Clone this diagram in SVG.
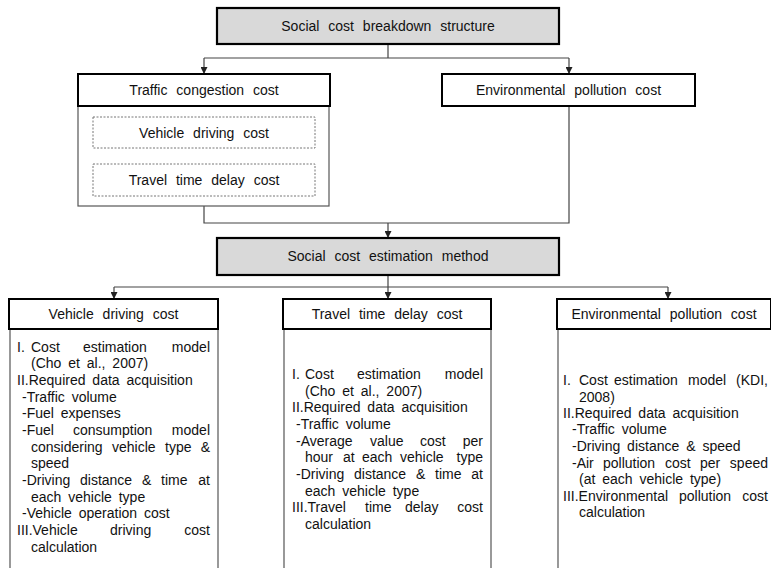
<svg xmlns="http://www.w3.org/2000/svg" width="771" height="568" viewBox="0 0 771 568">
<style>
text{font-family:"Liberation Sans",Arial,sans-serif;font-size:14px;fill:#111;}
.h{text-anchor:middle;word-spacing:5px;}
.b{word-spacing:3px;}
.e{text-anchor:end;}
.hdr{fill:#fff;stroke:#000;stroke-width:2;}
.gray{fill:#d9d9d9;stroke:#000;stroke-width:2.2;}
.body{fill:#fff;stroke:#555;stroke-width:1.2;}
.dash{fill:#fff;stroke:#777;stroke-width:1;stroke-dasharray:2 1.5;}
.c{stroke:#444;stroke-width:1.2;fill:none;}
</style>
<defs>
<marker id="ah" markerWidth="7" markerHeight="7" refX="6" refY="3.5" orient="auto" markerUnits="userSpaceOnUse">
<path d="M0,0 L7,3.5 L0,7 z" fill="#222"/>
</marker>
</defs>
<rect width="771" height="568" fill="#fff"/>

<g id="connectors">
<path class="c" d="M388,44 V58 M204,58 H569"/>
<path class="c" d="M204,58 V73" marker-end="url(#ah)"/>
<path class="c" d="M569,58 V73" marker-end="url(#ah)"/>
<path class="c" d="M204,206 V223 H569 V106"/>
<path class="c" d="M388,223 V237" marker-end="url(#ah)"/>
<path class="c" d="M388,275 V298" marker-end="url(#ah)"/>
<path class="c" d="M114,287 H668"/>
<path class="c" d="M114,287 V298" marker-end="url(#ah)"/>
<path class="c" d="M668,287 V298" marker-end="url(#ah)"/>
</g>

<g id="n-breakdown">
<rect class="gray" x="217" y="8" width="342" height="36"/>
<text class="h" x="388" y="31">Social cost breakdown structure</text>
</g>

<g id="n-traffic">
<rect class="body" x="78" y="106" width="251" height="100"/>
<rect class="hdr" x="78" y="74" width="252" height="32"/>
<text class="h" x="204" y="95">Traffic congestion cost</text>
</g>

<g id="n-vdc-dash">
<rect class="dash" x="93" y="117" width="222" height="31"/>
<text class="h" x="204" y="137.5">Vehicle driving cost</text>
</g>

<g id="n-ttd-dash">
<rect class="dash" x="93" y="164" width="222" height="32"/>
<text class="h" x="204" y="185">Travel time delay cost</text>
</g>

<g id="n-env">
<rect class="hdr" x="442" y="74" width="253" height="32"/>
<text class="h" x="568.5" y="95">Environmental pollution cost</text>
</g>

<g id="n-method">
<rect class="gray" x="217" y="238" width="342" height="37"/>
<text class="h" x="388" y="261">Social cost estimation method</text>
</g>

<g id="n-col1">
<rect class="body" x="10" y="329" width="208" height="250"/>
<rect class="hdr" x="9" y="299" width="209" height="30"/>
<text class="h" x="113.5" y="319">Vehicle driving cost</text>
<text x="17" y="352">I.</text><text x="31" y="352">Cost</text><text x="83" y="352">estimation</text><text class="e" x="210" y="352">model</text>
<text class="b" x="31" y="368">(Cho et al., 2007)</text>
<text class="b" x="17" y="385">II.Required data acquisition</text>
<text class="b" x="22" y="402">-Traffic volume</text>
<text class="b" x="22" y="418">-Fuel expenses</text>
<text x="22" y="435">-Fuel</text><text x="73" y="435">consumption</text><text class="e" x="210" y="435">model</text>
<text x="31" y="452">considering</text><text x="112" y="452">vehicle</text><text x="165" y="452">type</text><text class="e" x="210" y="452">&amp;</text>
<text x="31" y="468">speed</text>
<text x="22" y="485">-Driving</text><text x="80" y="485">distance</text><text x="142" y="485">&amp;</text><text x="161" y="485">time</text><text class="e" x="210" y="485">at</text>
<text class="b" x="31" y="502">each vehicle type</text>
<text class="b" x="22" y="518">-Vehicle operation cost</text>
<text x="17" y="535">III.Vehicle</text><text x="110" y="535">driving</text><text class="e" x="210" y="535">cost</text>
<text x="31" y="552">calculation</text>
</g>

<g id="n-col2">
<rect class="body" x="284" y="329" width="207" height="250"/>
<rect class="hdr" x="283" y="299" width="208" height="30"/>
<text class="h" x="387" y="319">Travel time delay cost</text>
<text x="292" y="379">I.</text><text x="305" y="379">Cost</text><text x="357" y="379">estimation</text><text class="e" x="483" y="379">model</text>
<text class="b" x="305" y="396">(Cho et al., 2007)</text>
<text class="b" x="292" y="412">II.Required data acquisition</text>
<text class="b" x="296" y="429">-Traffic volume</text>
<text x="296" y="446">-Average</text><text x="370" y="446">value</text><text x="420" y="446">cost</text><text class="e" x="483" y="446">per</text>
<text x="305" y="462">hour</text><text x="343" y="462">at</text><text x="362" y="462">each</text><text x="400" y="462">vehicle</text><text class="e" x="483" y="462">type</text>
<text x="296" y="479">-Driving</text><text x="354" y="479">distance</text><text x="416" y="479">&amp;</text><text x="435" y="479">time</text><text class="e" x="483" y="479">at</text>
<text class="b" x="305" y="496">each vehicle type</text>
<text x="292" y="512">III.Travel</text><text x="365" y="512">time</text><text x="405" y="512">delay</text><text class="e" x="483" y="512">cost</text>
<text x="305" y="529">calculation</text>
</g>

<g id="n-col3">
<rect class="body" x="558" y="329" width="214" height="250"/>
<rect class="hdr" x="557" y="299" width="214" height="30"/>
<text class="h" x="664" y="319">Environmental pollution cost</text>
<text x="563" y="385">I.</text><text x="579" y="385">Cost</text><text x="614" y="385">estimation</text><text x="688" y="385">model</text><text class="e" x="768" y="385">(KDI,</text>
<text x="579" y="402">2008)</text>
<text class="b" x="563" y="418">II.Required data acquisition</text>
<text class="b" x="572" y="434">-Traffic volume</text>
<text class="b" x="572" y="451">-Driving distance &amp; speed</text>
<text x="572" y="468">-Air</text><text x="603" y="468">pollution</text><text x="665" y="468">cost</text><text x="700" y="468">per</text><text class="e" x="768" y="468">speed</text>
<text class="b" x="579" y="484">(at each vehicle type)</text>
<text x="563" y="501">III.Environmental</text><text x="679" y="501">pollution</text><text class="e" x="768" y="501">cost</text>
<text x="579" y="517">calculation</text>
</g>
</svg>
